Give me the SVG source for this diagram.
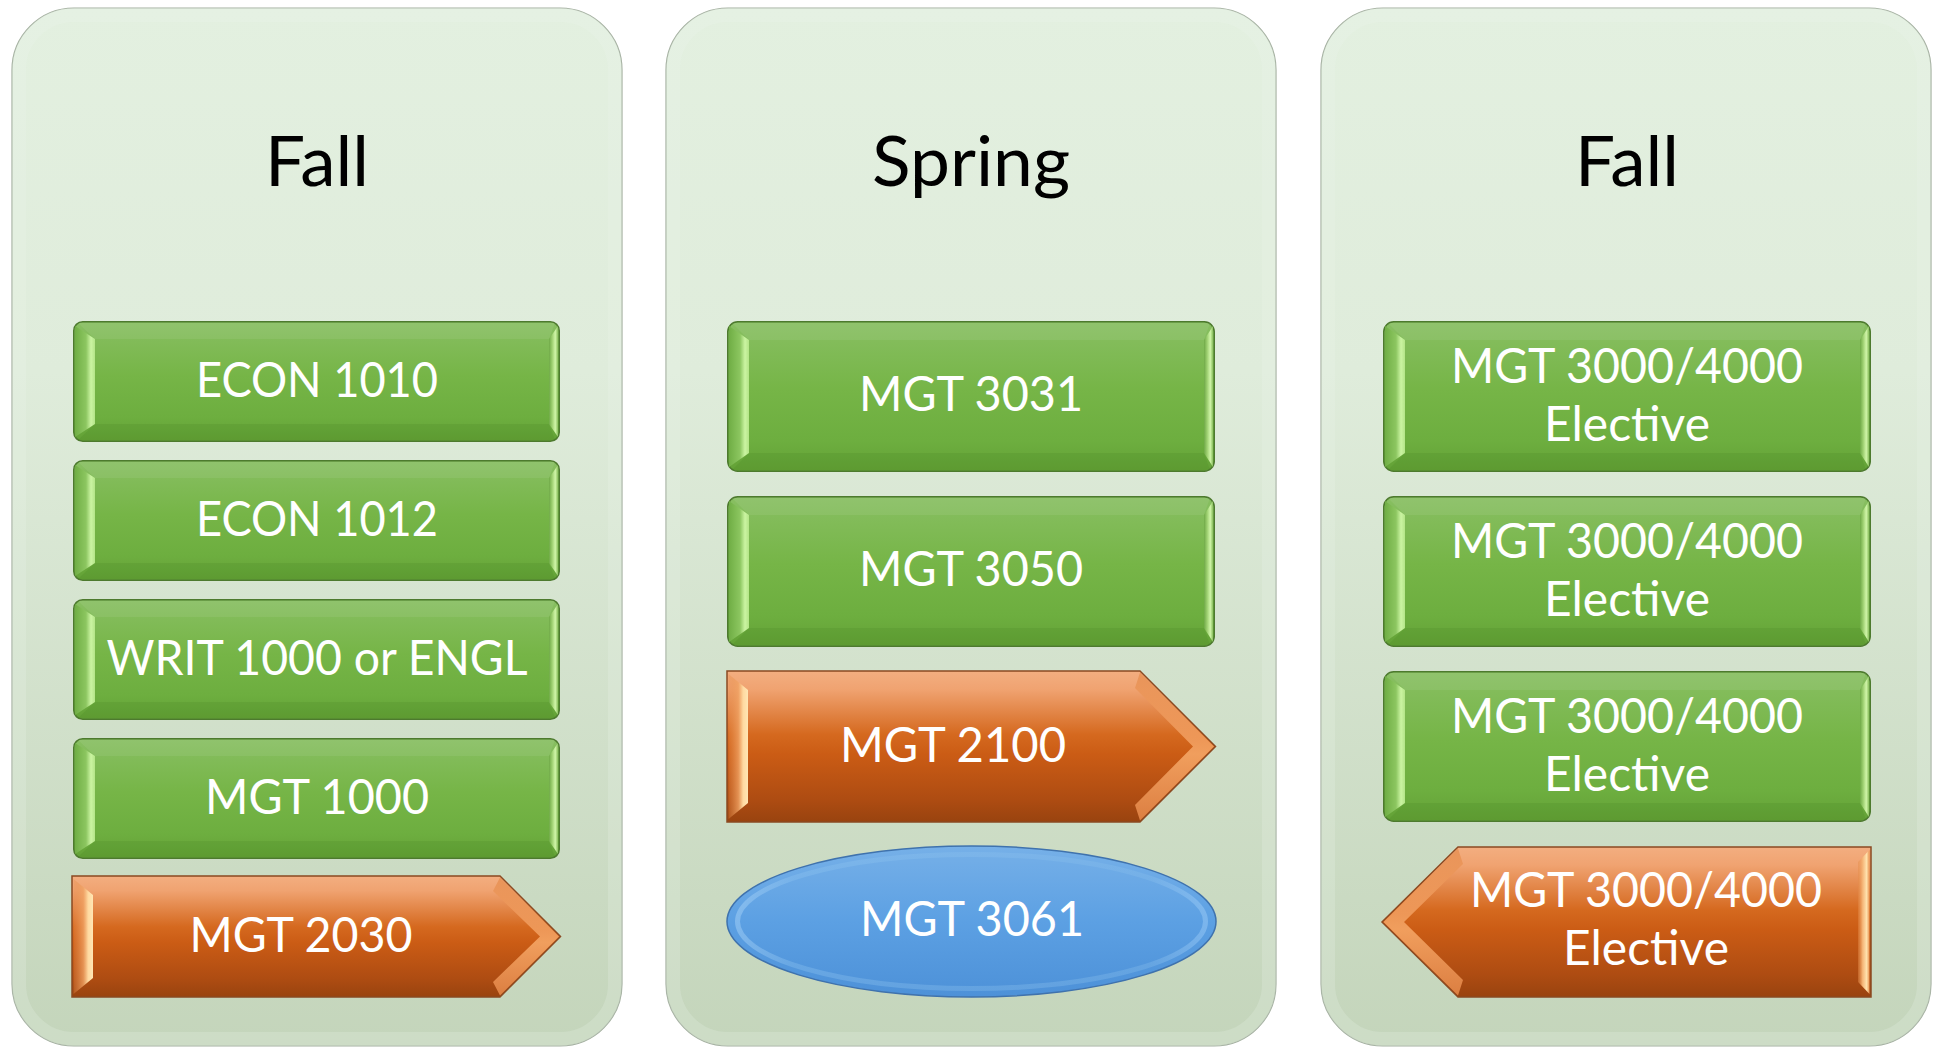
<svg xmlns="http://www.w3.org/2000/svg" xmlns:xlink="http://www.w3.org/1999/xlink" width="1936" height="1048" viewBox="0 0 1936 1048">
<style>
 .head{font-family:Lato,"Open Sans","Liberation Sans",sans-serif;font-size:70px;fill:#000;text-anchor:middle}
 .lbl{font-family:Lato,"Open Sans","Liberation Sans",sans-serif;font-size:48px;fill:#fff;text-anchor:middle}
 .panel{fill:url(#gPanel);stroke:#A3AF9F;stroke-width:1.2}
 .pin{fill:none;stroke:#EEF8EB;stroke-opacity:.22;stroke-width:14}
 .oEdge{stroke:#8B4A22;stroke-width:1.5}
</style>
<defs>
 <linearGradient id="gPanel" x1="0" y1="0" x2="0" y2="1">
  <stop offset="0" stop-color="#E3F0E0"/>
  <stop offset="0.35" stop-color="#DFECDB"/>
  <stop offset="1" stop-color="#C4D5BB"/>
 </linearGradient>
 <linearGradient id="gFace" x1="0" y1="0" x2="0" y2="1">
  <stop offset="0" stop-color="#88BF62"/>
  <stop offset="0.45" stop-color="#76B547"/>
  <stop offset="0.8" stop-color="#6DAE3F"/>
  <stop offset="1" stop-color="#63A136"/>
 </linearGradient>
 <linearGradient id="gBevL" x1="0" y1="0" x2="1" y2="0">
  <stop offset="0" stop-color="#70AE45"/>
  <stop offset="0.55" stop-color="#8CC660"/>
  <stop offset="0.8" stop-color="#CBF4A2"/>
  <stop offset="1" stop-color="#B4E588"/>
 </linearGradient>
 <linearGradient id="gBevR" x1="0" y1="0" x2="1" y2="0">
  <stop offset="0" stop-color="#6FA947"/>
  <stop offset="0.35" stop-color="#9ED071"/>
  <stop offset="0.7" stop-color="#D0F5A8"/>
  <stop offset="1" stop-color="#88BE5C"/>
 </linearGradient>
 <linearGradient id="gOr" x1="0" y1="0" x2="0" y2="1">
  <stop offset="0" stop-color="#F3AE80"/>
  <stop offset="0.12" stop-color="#F0A371"/>
  <stop offset="0.42" stop-color="#D5691F"/>
  <stop offset="0.55" stop-color="#CB5C15"/>
  <stop offset="0.85" stop-color="#AE4C12"/>
  <stop offset="1" stop-color="#99430F"/>
 </linearGradient>
 <linearGradient id="gOBevL" x1="0" y1="0" x2="1" y2="0">
  <stop offset="0" stop-color="#E48A48" stop-opacity="0.3"/>
  <stop offset="0.5" stop-color="#F0A263" stop-opacity="0.8"/>
  <stop offset="0.75" stop-color="#FFD9A0"/>
  <stop offset="1" stop-color="#FFE6B4"/>
 </linearGradient>
 <linearGradient id="gOBevR" x1="0" y1="0" x2="1" y2="0">
  <stop offset="0" stop-color="#E48A48" stop-opacity="0.4"/>
  <stop offset="0.4" stop-color="#F5B577"/>
  <stop offset="0.75" stop-color="#FFE2AE"/>
  <stop offset="1" stop-color="#E8924F"/>
 </linearGradient>
 <linearGradient id="gOHead" x1="0" y1="0" x2="0" y2="1">
  <stop offset="0" stop-color="#E79053"/>
  <stop offset="0.45" stop-color="#F2A062"/>
  <stop offset="0.55" stop-color="#F7AA6A"/>
  <stop offset="1" stop-color="#E7894A"/>
 </linearGradient>
 <linearGradient id="gBlue" x1="0" y1="0" x2="0" y2="1">
  <stop offset="0" stop-color="#76B0E8"/>
  <stop offset="0.5" stop-color="#5CA0E3"/>
  <stop offset="1" stop-color="#4D91D8"/>
 </linearGradient>
 <linearGradient id="gRing" x1="0" y1="0" x2="1" y2="0">
  <stop offset="0" stop-color="#C4E6FF"/>
  <stop offset="0.12" stop-color="#8EC4F0"/>
  <stop offset="0.88" stop-color="#86BDEB"/>
  <stop offset="1" stop-color="#B5DDFF"/>
 </linearGradient>
 <g id="boxA">
  <rect x="0.75" y="0.75" width="485.5" height="119.5" rx="9" fill="url(#gFace)" stroke="#4D7A2E" stroke-width="1.5"/>
  <path d="M5,2 L482,2 L476,18 L22,18 Z" fill="#FFFFFF" fill-opacity="0.07"/>
  <path d="M22,103 L476,103 L482,119 L5,119 Z" fill="#3F7A1E" fill-opacity="0.15"/>
  <path d="M2,5 L22,18 L22,103 L2,116 Z" fill="url(#gBevL)"/>
  <path d="M476,18 L485,5 L485,116 L476,103 Z" fill="url(#gBevR)"/>
 </g>
 <g id="boxB">
  <rect x="0.75" y="0.75" width="486.5" height="149.5" rx="10" fill="url(#gFace)" stroke="#4D7A2E" stroke-width="1.5"/>
  <path d="M5,2 L483,2 L477,19 L22,19 Z" fill="#FFFFFF" fill-opacity="0.07"/>
  <path d="M22,132 L477,132 L483,149 L5,149 Z" fill="#3F7A1E" fill-opacity="0.15"/>
  <path d="M2,5 L22,19 L22,132 L2,146 Z" fill="url(#gBevL)"/>
  <path d="M477,19 L486,5 L486,146 L477,132 Z" fill="url(#gBevR)"/>
 </g>
</defs>
<rect width="1936" height="1048" fill="#FFFFFF"/>

<g id="panel-fall-1">
 <rect class="panel" x="12" y="8" width="610" height="1038" rx="62"/>
 <rect class="pin" x="19" y="15" width="596" height="1024" rx="55"/>
 <text class="head" x="317" y="186" textLength="104" lengthAdjust="spacingAndGlyphs">Fall</text>
</g>
<g id="panel-spring">
 <rect class="panel" x="666" y="8" width="610" height="1038" rx="62"/>
 <rect class="pin" x="673" y="15" width="596" height="1024" rx="55"/>
 <text class="head" x="971" y="186" textLength="198" lengthAdjust="spacingAndGlyphs">Spring</text>
</g>
<g id="panel-fall-2">
 <rect class="panel" x="1321" y="8" width="610" height="1038" rx="62"/>
 <rect class="pin" x="1328" y="15" width="596" height="1024" rx="55"/>
 <text class="head" x="1627" y="186" textLength="104" lengthAdjust="spacingAndGlyphs">Fall</text>
</g>

<g id="connectors"/>

<g id="econ1010">
 <use xlink:href="#boxA" x="73" y="321"/>
 <text class="lbl" x="317" y="396.5" textLength="242" lengthAdjust="spacingAndGlyphs">ECON 1010</text>
</g>
<g id="econ1012">
 <use xlink:href="#boxA" x="73" y="460"/>
 <text class="lbl" x="317" y="535.5" textLength="242" lengthAdjust="spacingAndGlyphs">ECON 1012</text>
</g>
<g id="writ1000">
 <use xlink:href="#boxA" x="73" y="599"/>
 <text class="lbl" x="317" y="674.5" textLength="421" lengthAdjust="spacingAndGlyphs">WRIT 1000 or ENGL</text>
</g>
<g id="mgt1000">
 <use xlink:href="#boxA" x="73" y="738"/>
 <text class="lbl" x="317" y="813.5" textLength="224" lengthAdjust="spacingAndGlyphs">MGT 1000</text>
</g>
<g id="mgt2030">
 <path class="oEdge" d="M72,876 L500,876 L560.5,936.5 L500,997 L72,997 Z" fill="url(#gOr)"/>
 <path d="M73.5,879 L93,895 L93,978 L73.5,994 Z" fill="url(#gOBevL)"/>
 <path d="M500,877.5 L559,936.5 L500,995.5 L493,982 L540,936.5 L493,891 Z" fill="url(#gOHead)" fill-opacity="0.85"/>
 <text class="lbl" x="301" y="951.5" textLength="223" lengthAdjust="spacingAndGlyphs">MGT 2030</text>
</g>

<g id="mgt3031">
 <use xlink:href="#boxB" x="727" y="321"/>
 <text class="lbl" x="971" y="411" textLength="224" lengthAdjust="spacingAndGlyphs">MGT 3031</text>
</g>
<g id="mgt3050">
 <use xlink:href="#boxB" x="727" y="496"/>
 <text class="lbl" x="971" y="586" textLength="224" lengthAdjust="spacingAndGlyphs">MGT 3050</text>
</g>
<g id="mgt2100">
 <path class="oEdge" d="M727,671 L1140,671 L1215.5,746.5 L1140,822 L727,822 Z" fill="url(#gOr)"/>
 <path d="M728.5,674 L748,690 L748,803 L728.5,819 Z" fill="url(#gOBevL)"/>
 <path d="M1140,672.5 L1214,746.5 L1140,820.5 L1135,805 L1193,746.5 L1135,688 Z" fill="url(#gOHead)" fill-opacity="0.85"/>
 <text class="lbl" x="953" y="762" textLength="226" lengthAdjust="spacingAndGlyphs">MGT 2100</text>
</g>
<g id="mgt3061">
 <ellipse cx="971.5" cy="921.5" rx="244.5" ry="75.5" fill="url(#gBlue)" stroke="#3F72AD" stroke-width="1.5"/>
 <ellipse cx="971.5" cy="921.5" rx="234" ry="67" fill="none" stroke="url(#gRing)" stroke-width="5" stroke-opacity="0.35"/>
 <text class="lbl" x="972" y="936" textLength="224" lengthAdjust="spacingAndGlyphs">MGT 3061</text>
</g>

<g id="elective-1">
 <use xlink:href="#boxB" x="1383" y="321"/>
 <text class="lbl" x="1627" y="383" textLength="352" lengthAdjust="spacingAndGlyphs">MGT 3000/4000</text>
 <text class="lbl" x="1627" y="441" textLength="166" lengthAdjust="spacingAndGlyphs">Elective</text>
</g>
<g id="elective-2">
 <use xlink:href="#boxB" x="1383" y="496"/>
 <text class="lbl" x="1627" y="558" textLength="352" lengthAdjust="spacingAndGlyphs">MGT 3000/4000</text>
 <text class="lbl" x="1627" y="616" textLength="166" lengthAdjust="spacingAndGlyphs">Elective</text>
</g>
<g id="elective-3">
 <use xlink:href="#boxB" x="1383" y="671"/>
 <text class="lbl" x="1627" y="733" textLength="352" lengthAdjust="spacingAndGlyphs">MGT 3000/4000</text>
 <text class="lbl" x="1627" y="791" textLength="166" lengthAdjust="spacingAndGlyphs">Elective</text>
</g>
<g id="elective-4">
 <path class="oEdge" d="M1871,847 L1458,847 L1382,922 L1458,997 L1871,997 Z" fill="url(#gOr)"/>
 <path d="M1869.5,850 L1858,862 L1858,982 L1869.5,994 Z" fill="url(#gOBevR)"/>
 <path d="M1458,848.5 L1383.5,922 L1458,995.5 L1463,980 L1404,922 L1463,864 Z" fill="url(#gOHead)" fill-opacity="0.85"/>
 <text class="lbl" x="1646" y="907" textLength="352" lengthAdjust="spacingAndGlyphs">MGT 3000/4000</text>
 <text class="lbl" x="1646" y="965" textLength="166" lengthAdjust="spacingAndGlyphs">Elective</text>
</g>
</svg>
